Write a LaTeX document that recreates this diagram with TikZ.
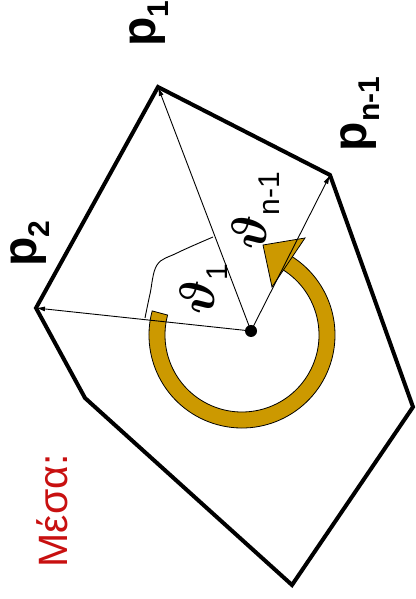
\documentclass[tikz,border=0pt]{standalone}
\usepackage{fontspec}
\setmainfont{Liberation Sans}
\usetikzlibrary{arrows.meta}
\definecolor{ringgold}{RGB}{204,153,0}
\definecolor{labelred}{RGB}{200,16,16}
\newcommand{\lowsub}[1]{\raisebox{-13pt}{\fontsize{30}{30}\selectfont #1}}
\newcommand{\bigtheta}{\scalebox{2.0}{\Huge\boldmath$\vartheta$}}

\begin{document}
\begin{tikzpicture}[x=1pt,y=1pt,
  edge/.style={line width=4pt, line join=miter},
  ray/.style={line width=0.9pt, -{Latex[length=9pt,width=5pt]}},
  ring/.style={draw=black, fill=ringgold, line width=0.8pt},
  plab/.style={font=\fontsize{48}{48}\selectfont\bfseries, rotate=90, inner sep=0pt},
  alab/.style={font=\fontsize{42}{42}\selectfont, rotate=90, inner sep=0pt},
]
\useasboundingbox (0,0) rectangle (415,599);
\coordinate (p1) at (158,512);
\coordinate (pn) at (330,424);
\coordinate (r) at (413,192);
\coordinate (b) at (292,14);
\coordinate (l) at (85,201);
\coordinate (p2) at (36,291);
\coordinate (c) at (251,268);
\coordinate (o) at (242,264);

\draw[edge] (p1) -- (pn) -- (r) -- (b) -- (l) -- (p2) -- cycle;

\def\rin{77}
\def\rout{93}
\begin{scope}[shift={(o)}]
  \filldraw[ring] (165:\rout) arc[start angle=165, end angle=418, radius=\rout]
    -- (418:\rin) arc[start angle=418, end angle=165, radius=\rin] -- cycle;
\end{scope}
\filldraw[ring] (263,354) -- (305,361) -- (272,312) -- cycle;

\draw[line width=0.9pt] plot[smooth, tension=0.6] coordinates {(213,362) (177,346) (157,334) (150,305) (145,281)};

\foreach \v in {p1,pn,p2} {
  \draw[ray] (c) -- (\v);
}
\fill (c) circle (6);

\node[plab] (lp1) at (149,575) {p\lowsub{1}};
\node[plab] (lp2) at (30,355) {p\lowsub{2}};
\node[plab] (lpn) at (360,485) {p\lowsub{n-1}};
\node[alab] (lt1) at (204,310) {\bigtheta\lowsub{1}};
\node[alab] (ltn) at (256,388) {\bigtheta\lowsub{n-1}};
\node[font=\fontsize{41}{41}\selectfont, text=labelred, rotate=90, inner sep=0pt] (mesa) at (52,88) {Μέσα:};
\end{tikzpicture}
\end{document}
